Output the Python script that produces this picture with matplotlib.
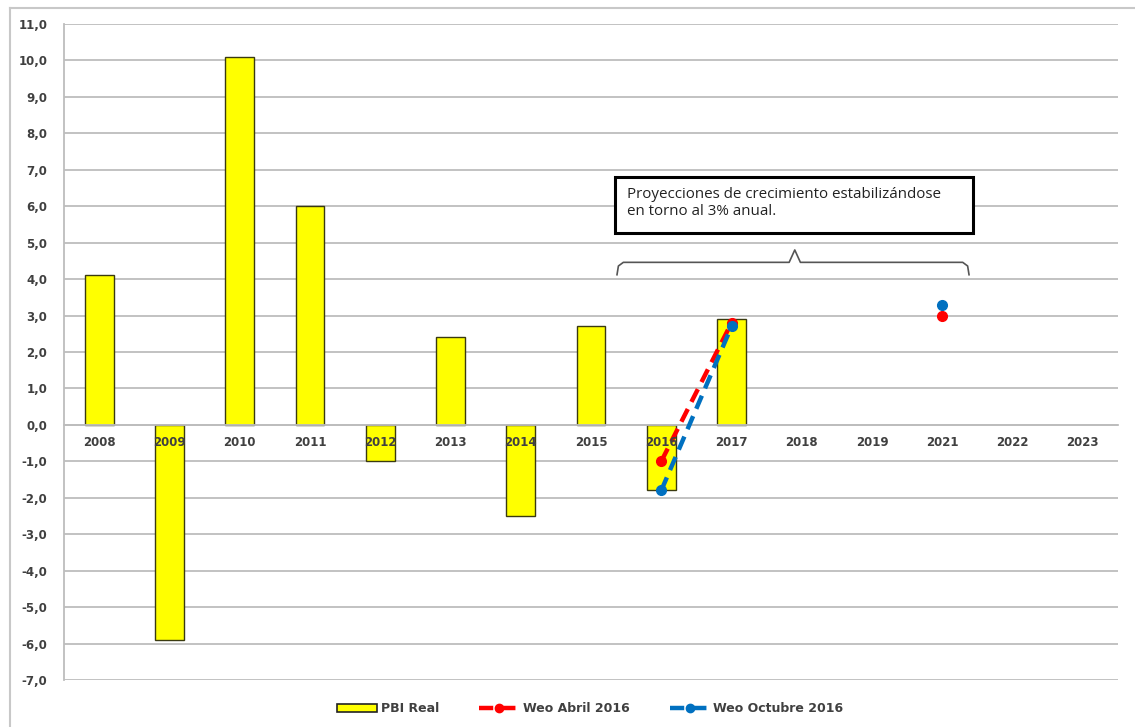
import matplotlib.pyplot as plt
import numpy as np
from matplotlib.lines import Line2D
from matplotlib.patches import Patch, Rectangle
from matplotlib.ticker import FuncFormatter
from matplotlib.transforms import offset_copy

years = ['2008', '2009', '2010', '2011', '2012', '2013', '2014', '2015',
         '2016', '2017', '2018', '2019', '2021', '2022', '2023']
pbi_real = [4.1, -5.9, 10.1, 6.0, -1.0, 2.4, -2.5, 2.7, -1.8, 2.9,
            np.nan, np.nan, np.nan, np.nan, np.nan]
weo_abril = [np.nan] * 8 + [-1.0, 2.8, np.nan, np.nan, 3.0, np.nan, np.nan]
weo_octubre = [np.nan] * 8 + [-1.8, 2.7, np.nan, np.nan, 3.3, np.nan, np.nan]

grey_txt = '#404040'
grid_col = '#BDBDBD'

fig = plt.figure(figsize=(11.35, 7.27), dpi=100)
ax = fig.add_axes([64 / 1135, 1 - 680 / 727, (1118 - 64) / 1135, (680 - 24) / 727])

x = np.arange(len(years))
ax.bar(x, pbi_real, width=0.41, color='#FFFF00', edgecolor='#3a3a10', linewidth=1.0, zorder=2)

dash = (3.2, 1.8)
ax.plot(x, weo_abril, color='#FF0000', lw=3.2, ls=(0, dash), marker='o', ms=7, zorder=3)
ax.plot(x, weo_octubre, color='#0070C0', lw=3.2, ls=(0, dash), marker='o', ms=7, zorder=4)

ax.set_xlim(-0.5, len(years) - 0.5)
ax.set_ylim(-7, 11)
ax.set_yticks(np.arange(-7, 12, 1))
ax.yaxis.set_major_formatter(FuncFormatter(lambda v, p: f'{v:.1f}'.replace('.', ',')))
ax.yaxis.grid(True, color=grid_col, linewidth=1.3, zorder=0)
ax.set_axisbelow(True)

# category labels sit on the zero line, drawn over the bars
ax.set_xticks([])
lab_tr = offset_copy(ax.transData, fig=fig, x=0, y=-18, units='dots')
for xi, yr in zip(x, years):
    ax.text(xi, 0, yr, transform=lab_tr, ha='center', va='center', fontsize=8.5,
            fontweight='bold', color=grey_txt, zorder=6)

ax.spines['bottom'].set_position(('data', 0))
ax.spines['bottom'].set_color(grid_col)
ax.spines['bottom'].set_linewidth(1.3)
ax.spines['top'].set_visible(False)
ax.spines['right'].set_visible(False)
ax.spines['left'].set_color(grid_col)
ax.spines['left'].set_linewidth(1.3)
ax.tick_params(axis='y', length=0, pad=12, labelsize=8.5, labelcolor=grey_txt)
for lab in ax.get_yticklabels():
    lab.set_fontweight('bold')

# annotation box and brace
ax.add_patch(Rectangle((7.34, 5.27), 12.43 - 7.34, 6.79 - 5.27, facecolor='white',
                       edgecolor='black', linewidth=2.2, zorder=5))
ax.text(7.51, 6.08, 'Proyecciones de crecimiento estabilizándose\nen torno al 3% anual.',
        fontsize=10.9, family='Open Sans', color='#222222', va='center', ha='left',
        linespacing=1.2, zorder=6)
bx = [7.37, 7.39, 7.46, 9.82, 9.90, 9.98, 12.29, 12.36, 12.38]
by = [4.12, 4.36, 4.46, 4.46, 4.80, 4.46, 4.46, 4.36, 4.12]
ax.plot(bx, by, color='#555555', lw=1.2, zorder=5)

handles = [Patch(facecolor='#FFFF00', edgecolor='#222222', linewidth=1.2),
           Line2D([], [], color='#FF0000', lw=3.2, ls=(0, dash), marker='o', ms=6, markevery=[1]),
           Line2D([], [], color='#0070C0', lw=3.2, ls=(0, dash), marker='o', ms=6, markevery=[1])]
leg = fig.legend(handles, ['PBI Real', 'Weo Abril 2016', 'Weo Octubre 2016'],
                 loc='center', bbox_to_anchor=(0.52, 1 - 709 / 727), ncol=3, frameon=False,
                 fontsize=9, handlelength=3.2, handleheight=0.6, columnspacing=3.2,
                 handletextpad=0.3)
for t in leg.get_texts():
    t.set_color(grey_txt)
    t.set_fontweight('bold')

# outer chart frame
fig.add_artist(Line2D([10 / 1135, 10 / 1135], [0, 1 - 8 / 727], transform=fig.transFigure,
                      color='#C8C8C8', lw=1.5))
fig.add_artist(Line2D([10 / 1135, 1], [1 - 8 / 727, 1 - 8 / 727], transform=fig.transFigure,
                      color='#C8C8C8', lw=1.5))

fig.savefig('out.png', dpi=100)
